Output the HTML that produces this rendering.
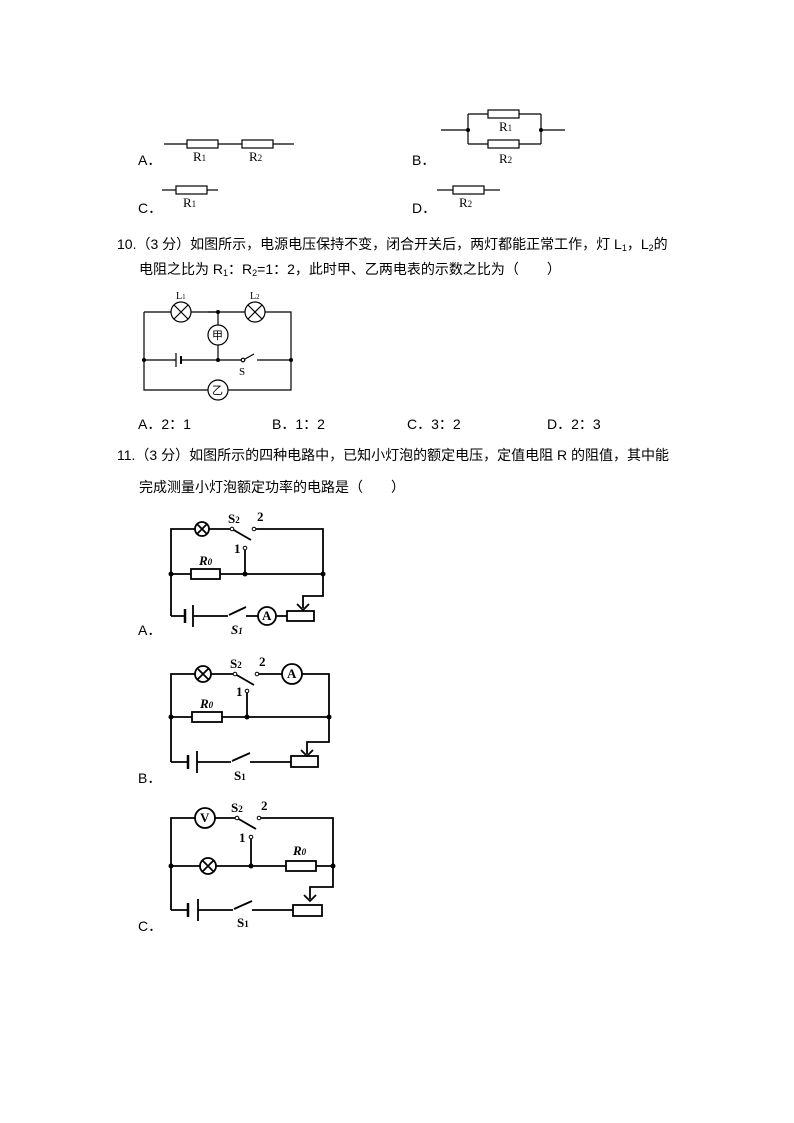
<!DOCTYPE html>
<html><head><meta charset="utf-8"><style>
html,body{margin:0;padding:0;background:#fff;}
svg{display:block}
text{font-family:"Liberation Serif","Noto Serif CJK SC","Noto Sans CJK SC",serif;fill:#000}
.t{font-size:14px;font-family:"Liberation Sans","Noto Sans CJK SC",sans-serif}
.w{stroke:#000;stroke-width:1.2;fill:none}
.b{stroke:#000;stroke-width:1.8;fill:none}
.lb{font-size:13px}
.bold{font-weight:bold;font-size:13px}
</style></head><body>
<svg width="794" height="1123" viewBox="0 0 794 1123" xmlns="http://www.w3.org/2000/svg">
<!-- Q9 options -->
<g class="w">
<line x1="164" y1="144" x2="187" y2="144"/><rect x="187" y="140" width="31" height="8"/><line x1="218" y1="144" x2="242" y2="144"/><rect x="242" y="140" width="31" height="8"/><line x1="273" y1="144" x2="294" y2="144"/>
<line x1="441" y1="130" x2="468" y2="130"/><path d="M468 114V144M541 114V144M468 114H488M519 114H541M468 144H488M519 144H541"/><rect x="488" y="110" width="31" height="8"/><rect x="488" y="140" width="31" height="8"/><line x1="541" y1="130" x2="565" y2="130"/>
<line x1="162" y1="190" x2="176" y2="190"/><rect x="176" y="186" width="31" height="8"/><line x1="207" y1="190" x2="218" y2="190"/>
<line x1="437" y1="190" x2="453" y2="190"/><rect x="453" y="186" width="31" height="8"/><line x1="484" y1="190" x2="500" y2="190"/>
</g>
<circle cx="468" cy="130" r="2"/><circle cx="541" cy="130" r="2"/>
<text class="lb" x="193" y="161">R<tspan font-size="9">1</tspan></text>
<text class="lb" x="249" y="161">R<tspan font-size="9">2</tspan></text>
<text class="lb" x="499" y="131">R<tspan font-size="9">1</tspan></text>
<text class="lb" x="499" y="163">R<tspan font-size="9">2</tspan></text>
<text class="lb" x="183" y="207">R<tspan font-size="9">1</tspan></text>
<text class="lb" x="459" y="207">R<tspan font-size="9">2</tspan></text>
<text class="t" x="138" y="165">A．</text><text class="t" x="412" y="165">B．</text>
<text class="t" x="138" y="213">C．</text><text class="t" x="412" y="213">D．</text>
<!-- Q10 text -->
<text class="t" x="117" y="249">10.（3 分）如图所示，电源电压保持不变，闭合开关后，两灯都能正常工作，灯 L<tspan font-size="9" dy="2">1</tspan><tspan dy="-2">，L</tspan><tspan font-size="9" dy="2">2</tspan><tspan dy="-2">的</tspan></text>
<text class="t" x="139" y="274">电阻之比为 R<tspan font-size="9" dy="2">1</tspan><tspan dy="-2">：R</tspan><tspan font-size="9" dy="2">2</tspan><tspan dy="-2">=1：2，此时甲、乙两电表的示数之比为（　　）</tspan></text>
<!-- Q10 circuit -->
<g class="w">
<path d="M144 312V390H208M228 390H291V312H265M245 312H228V312M218 312H191M171 312H144"/>
<path d="M228 312H208"/>
<path d="M218 312V325M218 345V360"/>
<path d="M144 360H176M182 360H243M257 360H291"/>
<line x1="176" y1="353" x2="176" y2="367"/><line x1="181" y1="356" x2="181" y2="364" stroke-width="2"/>
<line x1="245" y1="359" x2="254" y2="354"/>
<circle cx="181" cy="312" r="10"/><path d="M174 305L188 319M188 305L174 319"/>
<circle cx="255" cy="312" r="10"/><path d="M248 305L262 319M262 305L248 319"/>
<circle cx="218" cy="335" r="10"/><circle cx="218" cy="390" r="10"/>
<circle cx="243" cy="360" r="1.8" fill="#fff"/>
</g>
<circle cx="218" cy="312" r="2"/><circle cx="218" cy="360" r="2"/><circle cx="144" cy="360" r="2"/><circle cx="291" cy="360" r="2"/>
<text x="176" y="299" font-size="10">L<tspan font-size="7">1</tspan></text>
<text x="250" y="299" font-size="10">L<tspan font-size="7">2</tspan></text>
<text x="212" y="339" font-size="11" style="font-family:'Noto Sans CJK SC',sans-serif">甲</text>
<text x="212" y="394" font-size="11" style="font-family:'Noto Sans CJK SC',sans-serif">乙</text>
<text x="239" y="375" font-size="11">S</text>
<text class="t" x="138" y="429">A．2：1</text><text class="t" x="272" y="429">B．1：2</text>
<text class="t" x="407" y="429">C．3：2</text><text class="t" x="547" y="429">D．2：3</text>
<text class="t" x="117" y="460">11.（3 分）如图所示的四种电路中，已知小灯泡的额定电压，定值电阻 R 的阻值，其中能</text>
<text class="t" x="139" y="492">完成测量小灯泡额定功率的电路是（　　）</text>
<!-- Circuit A -->
<g class="b">
<path d="M171 616V529H195M209 529H232M256 529H323V596H303V608"/>
<path d="M297 604L303 610L309 604"/>
<line x1="232" y1="529" x2="251" y2="540"/>
<path d="M245 549V574"/>
<path d="M171 574H191M220 574H323"/>
<rect x="191" y="569" width="29" height="10"/>
<path d="M171 616H185M193 616H228M246 616H258M276 616H287"/>
<line x1="185" y1="609" x2="185" y2="623" stroke-width="2.5"/><line x1="193" y1="605" x2="193" y2="627"/>
<line x1="229" y1="615" x2="246" y2="607"/>
<rect x="287" y="611" width="27" height="10"/>
<circle cx="202" cy="529" r="7"/><path d="M197 524L207 534M207 524L197 534"/>
<circle cx="267" cy="616" r="9"/>
</g>
<circle cx="232" cy="529" r="1.8" fill="#fff" stroke="#000"/><circle cx="254" cy="529" r="1.8" fill="#fff" stroke="#000"/><circle cx="245" cy="548" r="1.8" fill="#fff" stroke="#000"/>
<circle cx="171" cy="574" r="2.5"/><circle cx="245" cy="574" r="2.5"/><circle cx="323" cy="574" r="2.5"/>
<text class="bold" x="228" y="523">S<tspan font-size="9">2</tspan></text><text class="bold" x="257" y="521">2</text><text class="bold" x="234" y="553">1</text>
<text class="bold" x="199" y="565" font-style="italic">R<tspan font-size="9">0</tspan></text>
<text class="bold" x="262" y="620" font-size="11">A</text>
<text class="bold" x="231" y="634" font-style="italic">S<tspan font-size="9">1</tspan></text>
<text class="t" x="138" y="635">A．</text>
<!-- Circuit B -->
<g class="b">
<path d="M171 762V674H195M211 674H235M258 674H282M302 674H329V742H307V754"/>
<path d="M301 750L307 756L313 750"/>
<line x1="235" y1="674" x2="254" y2="685"/>
<path d="M247 692V717"/>
<path d="M171 717H192M222 717H329"/>
<rect x="192" y="712" width="30" height="10"/>
<path d="M171 762H188M197 762H231M250 762H291"/>
<line x1="188" y1="755" x2="188" y2="769" stroke-width="2.5"/><line x1="197" y1="751" x2="197" y2="773"/>
<line x1="232" y1="761" x2="250" y2="753"/>
<rect x="291" y="756" width="27" height="11"/>
<circle cx="203" cy="674" r="8"/><path d="M197 668L209 680M209 668L197 680"/>
<circle cx="292" cy="674" r="10"/>
</g>
<circle cx="235" cy="674" r="1.8" fill="#fff" stroke="#000"/><circle cx="257" cy="674" r="1.8" fill="#fff" stroke="#000"/><circle cx="247" cy="691" r="1.8" fill="#fff" stroke="#000"/>
<circle cx="171" cy="717" r="2.5"/><circle cx="247" cy="717" r="2.5"/><circle cx="329" cy="717" r="2.5"/>
<text class="bold" x="230" y="668">S<tspan font-size="9">2</tspan></text><text class="bold" x="259" y="666">2</text><text class="bold" x="236" y="696">1</text>
<text class="bold" x="200" y="708" font-style="italic">R<tspan font-size="9">0</tspan></text>
<text class="bold" x="287" y="678" font-size="11">A</text>
<text class="bold" x="234" y="780">S<tspan font-size="9">1</tspan></text>
<text class="t" x="138" y="783">B．</text>
<!-- Circuit C -->
<g class="b">
<path d="M171 910V818H195M215 818H237M260 818H333V887H310V899"/>
<path d="M304 895L310 901L316 895"/>
<line x1="237" y1="818" x2="256" y2="829"/>
<path d="M251 837V866"/>
<path d="M171 866H200M216 866H286M316 866H333"/>
<rect x="286" y="861" width="30" height="10"/>
<path d="M171 910H188M198 910H233M252 910H293"/>
<line x1="188" y1="903" x2="188" y2="917" stroke-width="2.5"/><line x1="198" y1="899" x2="198" y2="921"/>
<line x1="234" y1="909" x2="252" y2="901"/>
<rect x="293" y="905" width="29" height="11"/>
<circle cx="208" cy="866" r="8"/><path d="M202 860L214 872M214 860L202 872"/>
<circle cx="205" cy="818" r="10"/>
</g>
<circle cx="237" cy="818" r="1.8" fill="#fff" stroke="#000"/><circle cx="259" cy="818" r="1.8" fill="#fff" stroke="#000"/><circle cx="251" cy="837" r="1.8" fill="#fff" stroke="#000"/>
<circle cx="171" cy="866" r="2.5"/><circle cx="251" cy="866" r="2.5"/><circle cx="333" cy="866" r="2.5"/>
<text class="bold" x="231" y="812">S<tspan font-size="9">2</tspan></text><text class="bold" x="261" y="810">2</text><text class="bold" x="239" y="842">1</text>
<text class="bold" x="293" y="855" font-style="italic">R<tspan font-size="9">0</tspan></text>
<text class="bold" x="200" y="822" font-size="11">V</text>
<text class="bold" x="237" y="927">S<tspan font-size="9">1</tspan></text>
<text class="t" x="138" y="931">C．</text>
</svg>
</body></html>
